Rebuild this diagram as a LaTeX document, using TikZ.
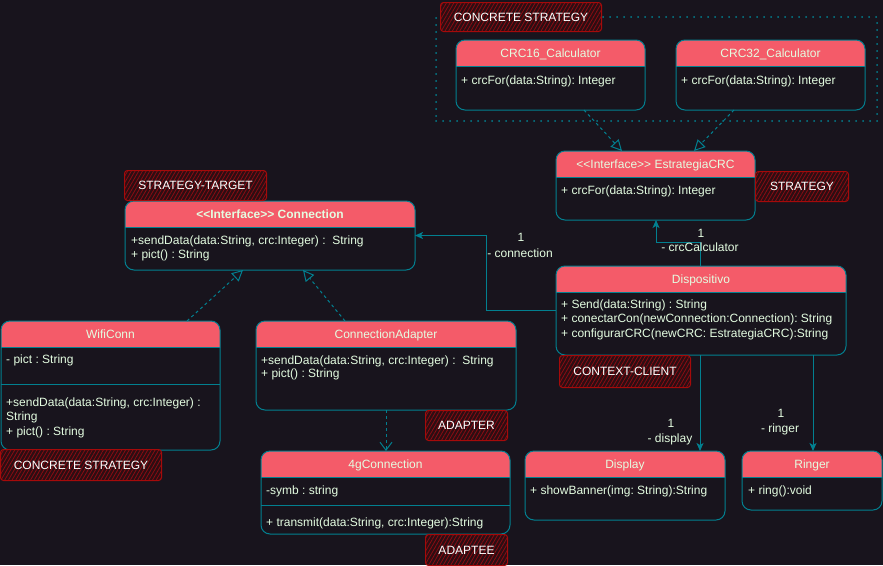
\documentclass[tikz,border=0pt]{standalone}
\usepackage{fontspec}
\setmainfont{Liberation Sans}
\usetikzlibrary{arrows.meta,patterns.meta}
\frenchspacing
\definecolor{bg}{HTML}{18141D}
\definecolor{head}{HTML}{F45B69}
\definecolor{stk}{HTML}{028090}
\definecolor{txt}{HTML}{E4FDE1}
\definecolor{tagred}{HTML}{A50A0A}
\definecolor{taghatch}{HTML}{8A0C12}
\definecolor{tagfill}{HTML}{2C0E13}
\tikzset{
  classbox/.style={draw=stk, line width=1pt, rounded corners=9pt, inner sep=0pt, outer sep=0pt, rectangle},
  titletxt/.style={text=txt, anchor=base, inner sep=0pt, font=\fontsize{12pt}{14.4pt}\selectfont},
  bodytxt/.style={text=txt, anchor=base west, inner sep=0pt, font=\fontsize{12pt}{14.4pt}\selectfont},
  assoclbl/.style={text=txt, anchor=base, inner sep=0pt, font=\fontsize{12pt}{14.4pt}\selectfont},
  tag/.style={rectangle, rounded corners=3pt, inner sep=0pt, anchor=north west,
    preaction={fill=tagfill},
    pattern={Lines[angle=60,distance=3.2pt,line width=0.8pt]}, pattern color=taghatch,
    draw=tagred, line width=1pt, text=white,
    font=\fontsize{12pt}{14.4pt}\selectfont},
  realize/.style={draw=stk, line width=1pt, dash pattern=on 3pt off 3pt, -{Triangle[open,length=11pt,width=11pt]}},
  depend/.style={draw=stk, line width=1pt, dash pattern=on 3pt off 3pt, -{Straight Barb[length=8pt,width=12pt]}},
  assoc/.style={draw=stk, line width=1pt, -{Stealth[length=8pt,width=7pt,inset=2pt]}},
  sep/.style={draw=stk, line width=1pt},
}
\newcommand\umlbox[6]{%
  \begin{scope}
    \clip (#2-2,#3-2) rectangle (#2+#4+2,#3+26);
    \fill[head, rounded corners=9pt] (#2,#3) rectangle ++(#4,#5);
  \end{scope}
  \node[classbox, minimum width=#4pt, minimum height=#5pt, anchor=north west] (#1) at (#2,#3) {};
  \draw[sep] (#2,#3+26) -- ++(#4,0);
  \node[titletxt] (#1-t) at (#2+#4/2,#3+17.3) {#6};
}
\newcommand\bline[4]{\node[bodytxt] (#1) at (#2,#3+4.3) {#4};}
\newcommand\alabel[4]{\node[assoclbl] (#1) at (#2,#3+4.3) {#4};}
\begin{document}
\begin{tikzpicture}[x=1pt,y=-1pt]
\fill[bg] (0,0) rectangle (883,565);
\useasboundingbox (0,0) rectangle (883,565);

% group container
\node[draw=stk, line width=2pt, dash pattern=on 0pt off 7pt, line cap=round, inner sep=0pt,
  minimum width=441pt, minimum height=104pt, anchor=north west] (group) at (435,16) {};

% classes
\umlbox{crc16}{456}{40}{189}{70}{CRC16\_Calculator}
\bline{crc16-a}{461}{80}{+ crcFor(data:String): Integer}
\umlbox{crc32}{676}{40}{189}{70}{CRC32\_Calculator}
\bline{crc32-a}{681}{80}{+ crcFor(data:String): Integer}

\umlbox{estr}{556}{151}{199}{69}{{<}{<}Interface{>}{>} EstrategiaCRC}
\bline{estr-a}{561}{190}{+ crcFor(data:String): Integer}

\umlbox{conn}{125}{201}{290}{69}{\bfseries {<}{<}Interface{>}{>} Connection}
\bline{conn-a}{131}{240}{+sendData(data:String, crc:Integer) : \ String}
\bline{conn-b}{131}{254}{+ pict() : String}

\umlbox{wifi}{1}{321}{219}{129}{WifiConn}
\draw[sep] (wifi.west |- 0,384) -- (wifi.east |- 0,384);
\bline{wifi-a}{6}{359}{- pict : String}
\bline{wifi-b}{6}{402}{+sendData(data:String, crc:Integer) :}
\bline{wifi-c}{6}{416}{String}
\bline{wifi-d}{6}{431}{+ pict() : String}

\umlbox{adapt}{256}{321}{260}{89}{ConnectionAdapter}
\bline{adapt-a}{261}{360}{+sendData(data:String, crc:Integer) : \ String}
\bline{adapt-b}{261}{373}{+ pict() : String}

\umlbox{gconn}{261}{451}{249}{83}{4gConnection}
\draw[sep] (gconn.west |- 0,505) -- (gconn.east |- 0,505);
\bline{gconn-a}{266}{490}{-symb : string}
\bline{gconn-b}{266}{522}{+ transmit(data:String, crc:Integer):String}

\umlbox{disp}{556}{266}{290}{89}{Dispositivo}
\bline{disp-a}{561}{304}{+ Send(data:String) : String}
\bline{disp-b}{561}{318}{+ conectarCon(newConnection:Connection): String}
\bline{disp-c}{561}{333}{+ configurarCRC(newCRC: EstrategiaCRC):String}

\umlbox{display}{525}{451}{200}{69}{Display}
\bline{display-a}{530}{490}{+ showBanner(img: String):String}

\umlbox{ringer}{742}{451}{140}{59}{Ringer}
\bline{ringer-a}{748}{490}{+ ring():void}

% tags
\node[tag, minimum width=161pt, minimum height=29pt] (tag1) at (440,2) {CONCRETE STRATEGY};
\node[tag, minimum width=93pt, minimum height=30pt] (tag2) at (755,171) {STRATEGY};
\node[tag, minimum width=142pt, minimum height=30pt] (tag3) at (124,170) {STRATEGY-TARGET};
\node[tag, minimum width=161pt, minimum height=31pt] (tag4) at (0,449) {CONCRETE STRATEGY};
\node[tag, minimum width=82pt, minimum height=30pt] (tag5) at (425,410) {ADAPTER};
\node[tag, minimum width=82pt, minimum height=31pt] (tag6) at (425,534) {ADAPTEE};
\node[tag, minimum width=131pt, minimum height=32pt] (tag7) at (559,355) {CONTEXT-CLIENT};

% realizations
\draw[realize] ([xshift=128pt]crc16.south west) -- ([xshift=66pt]estr.north west);
\draw[realize] ([xshift=58pt]crc32.south west) -- ([xshift=138pt]estr.north west);
\draw[realize] ([xshift=186pt]wifi.north west) -- ([xshift=118pt]conn.south west);
\draw[realize] ([xshift=89pt]adapt.north west) -- ([xshift=178pt]conn.south west);
\draw[depend] ([xshift=130pt]adapt.south west) -- ([xshift=125pt]gconn.north west);

% associations
\draw[assoc] (disp.west) -- ++(-70,0) |- (conn.east);
\draw[assoc] ([xshift=144pt]disp.north west) -- ++(0,-24) -| ([xshift=100pt]estr.south west);
\draw[assoc] ([xshift=144pt]disp.south west) -- ([xshift=175pt]display.north west);
\draw[assoc] ([xshift=257pt]disp.south west) -- ([xshift=71pt]ringer.north west);

\alabel{l1a}{521}{237}{1}
\alabel{l1b}{520}{253}{- connection}
\alabel{l2a}{701}{233}{1}
\alabel{l2b}{700}{247}{- crcCalculator}
\alabel{l3a}{671}{423}{1}
\alabel{l3b}{670}{438}{- display}
\alabel{l4a}{781}{413}{1}
\alabel{l4b}{780}{428}{- ringer}
\end{tikzpicture}
\end{document}
